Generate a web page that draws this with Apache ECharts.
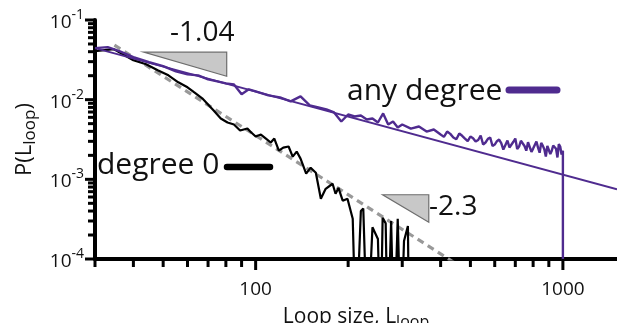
<!DOCTYPE html>
<html><head><meta charset="utf-8">
<script src="https://cdn.jsdelivr.net/npm/echarts@6/dist/echarts.min.js"></script>
<style>html,body{margin:0;padding:0;background:#fff}#c{width:617px;height:323px}</style>
</head><body><div id="c"></div>
<script>
// ---- data ----
const anyDegreeX = [30,33,36,40,45,50,55,60,65,70,75,80,85,90,95,100,110,120,130,140,150,160,170,180,190,200,210,220,230,240,250,260,270,280,290,300,
  320,340,360,380,400,410,420,430,440,450,460,470,480,490,500,510,520,530,540,550,560,570,580,590,600,610,620,630,640,650,660,670,680,690,700,
  710,720,730,740,750,760,770,780,790,800,810,820,830,840,850,860,870,880,890,900,910,920,930,940,950,960,970,980,990,1000,1000];
const anyDegreeY = [0.0444,0.0457,0.0407,0.0341,0.0295,0.0263,0.0227,0.0208,0.0202,0.0180,0.0170,0.0160,0.0155,0.0117,0.0135,0.0127,0.0113,0.0107,0.00952,0.0110,
  0.00847,0.00799,0.00754,0.00691,0.00532,0.00652,0.00615,0.00633,0.00564,0.00580,0.00517,0.00671,0.00488,0.00532,0.00447,0.00488,
  0.00434,0.00460,0.00398,0.00422,0.00365,0.00341,0.00398,0.00372,0.00335,0.00318,0.00376,0.00352,0.00325,0.00301,0.00345,0.00328,0.00298,0.00312,0.00355,0.00274,
  0.00290,0.00322,0.00335,0.00262,0.00273,0.00301,0.00316,0.00285,0.00236,0.00270,0.00307,0.00251,0.00265,0.00296,0.00325,
  0.00240,0.00258,0.00305,0.00290,0.00262,0.00229,0.00292,0.00281,0.00221,0.00243,0.00270,0.00298,0.00250,0.00216,0.00287,0.00265,0.00238,0.00193,0.00262,0.00273,
  0.00208,0.00229,0.00266,0.00281,0.00242,0.00188,0.00276,0.00258,0.00205,0.00229,0.00001];
const anyDegreeFitX = [30, 1500];
const anyDegreeFitY = [0.0444, 0.00075];

const degree0X = [30,34.5,40,44,48,52,56,60,63,67,70,73,77,81,85,89,94,96,100,104,108,112,115,119,123,128,132,136,140,146,
  151,157,163,169,178,182,186,192,199,207,212,220,224,231,240,250,255,259,265,269,276,282,290,297,304,313,316];
const degree0Y = [0.0407,0.0431,0.0313,0.0278,0.0234,0.0202,0.0165,0.0143,0.0124,0.0104,0.00872,0.00732,0.00580,0.00517,0.00488,0.00410,0.00434,0.00398,0.00345,0.00365,
  0.00325,0.00290,0.00325,0.00229,0.00250,0.00258,0.00193,0.00223,0.00182,0.00118,0.00140,0.00121,0.00057,0.00076,0.00088,0.00066,0.00078,0.00054,0.00057,0.00032,
  0.00001,0.00040,0.00043,0.00001,0.00025,0.000178,0.00001,0.00033,0.00028,0.00001,0.00030,0.00001,0.00032,0.00001,0.000168,0.00026,0.00001];
const degree0FitX = [34.7, 445];
const degree0FitY = [0.0484, 0.000089];

// slope triangles: [xLeft, xRight, yTop, yBottom]
const slopeTriangles = [[43.2, 80.5, 0.0395, 0.0197], [259, 366, 0.00064, 0.00029]];
const slopeLabels = ['-1.04', '-2.3'];
const seriesNames = ['any degree', 'degree 0'];

// axis ticks
const xRange = [30, 1500];
const yRange = [0.0001, 0.1];
const xMinorTicks = [30,40,50,60,70,80,90,200,300,400,500,600,700,800,900];
const xMajorTicks = [100,1000];
const yMinorTicks = [0.0002,0.0003,0.0004,0.0005,0.0006,0.0007,0.0008,0.0009,
  0.002,0.003,0.004,0.005,0.006,0.007,0.008,0.009,0.02,0.03,0.04,0.05,0.06,0.07,0.08,0.09];
const yMajorTicks = [0.0001,0.001,0.01,0.1];

// ---- chart ----
const FONT = '"Open Sans", "DejaVu Sans", sans-serif';
const PURPLE = '#4f2b8f';
const zip = (xs, ys) => xs.map((x, i) => [x, ys[i]]);
const isPow10 = v => Math.abs(Math.log10(v) - Math.round(Math.log10(v))) < 1e-6;

const annotations = [
  { type: 'text', x: 170, y: 33, z: 10, style: { text: slopeLabels[0], font: '28px ' + FONT, fill: '#111', align: 'left', verticalAlign: 'middle' } },
  { type: 'text', x: 429, y: 207, z: 10, style: { text: slopeLabels[1], font: '28px ' + FONT, fill: '#111', align: 'left', verticalAlign: 'middle' } },
  { type: 'text', x: 347, y: 91, z: 10, style: { text: seriesNames[0], font: '30px ' + FONT, fill: '#111', align: 'left', verticalAlign: 'middle' } },
  { type: 'line', z: 10, shape: { x1: 509, y1: 90, x2: 557, y2: 90 }, style: { stroke: PURPLE, lineWidth: 7, lineCap: 'round' } },
  { type: 'text', x: 97, y: 165, z: 10, style: { text: seriesNames[1], font: '30px ' + FONT, fill: '#111', align: 'left', verticalAlign: 'middle' } },
  { type: 'line', z: 10, shape: { x1: 227, y1: 167, x2: 270, y2: 167 }, style: { stroke: '#000', lineWidth: 6.5, lineCap: 'round' } }
];

const chart = echarts.init(document.getElementById('c'));
try {
chart.setOption({
  animation: false,
  grid: { left: 95, right: 0, top: 20, bottom: 64, containLabel: false, outerBoundsMode: 'none' },
  xAxis: {
    type: 'log', logBase: 10, min: xRange[0], max: xRange[1],
    axisLine: { lineStyle: { color: '#000', width: 4 } },
    axisTick: { show: false }, splitLine: { show: false },
    axisLabel: {
      formatter: v => isPow10(v) ? String(Math.round(v)) : '',
      fontSize: 19, color: '#111', fontFamily: FONT, margin: 21
    },
    name: 'Loop size, L{sub|loop}', nameLocation: 'middle', nameGap: 31,
    nameTextStyle: {
      fontSize: 21, color: '#111', fontFamily: FONT, lineHeight: 26,
      rich: { sub: { fontSize: 16, fontFamily: FONT, color: '#111', lineHeight: 16, padding: [11, 0, 0, 0] } }
    }
  },
  yAxis: {
    type: 'log', logBase: 10, min: yRange[0], max: yRange[1],
    axisLine: { lineStyle: { color: '#000', width: 4 } },
    axisTick: { show: false }, splitLine: { show: false },
    axisLabel: {
      formatter: v => '{b|10}{s|' + Math.round(Math.log10(v)) + '}',
      margin: 11,
      rich: {
        b: { fontSize: 19, fontFamily: FONT, color: '#111', lineHeight: 24, verticalAlign: 'bottom' },
        s: { fontSize: 14, fontFamily: FONT, color: '#111', lineHeight: 14, verticalAlign: 'top' }
      }
    },
    name: 'P(L{sub|loop})', nameLocation: 'middle', nameGap: 52,
    nameTextStyle: {
      fontSize: 22, color: '#111', fontFamily: FONT, lineHeight: 26,
      rich: { sub: { fontSize: 17, fontFamily: FONT, color: '#111', lineHeight: 17, padding: [11, 0, 0, 0] } }
    }
  },
  series: [
    {
      name: 'degree 0 fit', type: 'line', data: zip(degree0FitX, degree0FitY), z: 2,
      showSymbol: false, lineStyle: { color: '#999', width: 3.2, type: [7, 5] }
    },
    {
      name: seriesNames[1], type: 'line', data: zip(degree0X, degree0Y), z: 3,
      showSymbol: false, lineStyle: { color: '#000', width: 2.2 }
    },
    {
      name: 'any degree fit', type: 'line', data: zip(anyDegreeFitX, anyDegreeFitY), z: 4,
      showSymbol: false, lineStyle: { color: PURPLE, width: 2 }
    },
    {
      name: seriesNames[0], type: 'line', data: zip(anyDegreeX, anyDegreeY), z: 5,
      showSymbol: false, lineStyle: { color: PURPLE, width: 2.4 }
    }
  ],
  graphic: annotations
});
} catch (e) { /* keep going so ticks are still placed */ }

// ticks (as filled bars) and slope triangles placed through the chart's own log scales
const extra = [];
try {
  const toPx = (x, y) => chart.convertToPixel({ gridIndex: 0 }, [x, y]);
  const bar = (x0, y0, x1, y1) => ({ type: 'polygon', z: 10, silent: true,
    shape: { points: [[x0, y0], [x1, y0], [x1, y1], [x0, y1]] }, style: { fill: '#000' } });
  xMinorTicks.forEach(v => { const p = toPx(v, yRange[0]); extra.push(bar(p[0] - 1.5, p[1], p[0] + 1.5, p[1] + 8)); });
  xMajorTicks.forEach(v => { const p = toPx(v, yRange[0]); extra.push(bar(p[0] - 1.5, p[1], p[0] + 1.5, p[1] + 11)); });
  yMinorTicks.forEach(v => { const p = toPx(xRange[0], v); extra.push(bar(p[0] - 7, p[1] - 1.5, p[0], p[1] + 1.5)); });
  yMajorTicks.forEach(v => { const p = toPx(xRange[0], v); extra.push(bar(p[0] - 10, p[1] - 1.5, p[0], p[1] + 1.5)); });
  slopeTriangles.forEach(t => {
    const a = toPx(t[0], t[2]), b = toPx(t[1], t[2]), c = toPx(t[1], t[3]);
    extra.push({ type: 'polygon', z: 1, silent: true, shape: { points: [a, b, c] },
      style: { fill: '#c8c8c8', stroke: '#6e6e6e', lineWidth: 1.2 } });
  });
} catch (e) { /* ignore */ }
try {
  chart.setOption({ graphic: annotations.concat(extra) });
} catch (e) { /* ignore */ }
</script>
</body></html>
